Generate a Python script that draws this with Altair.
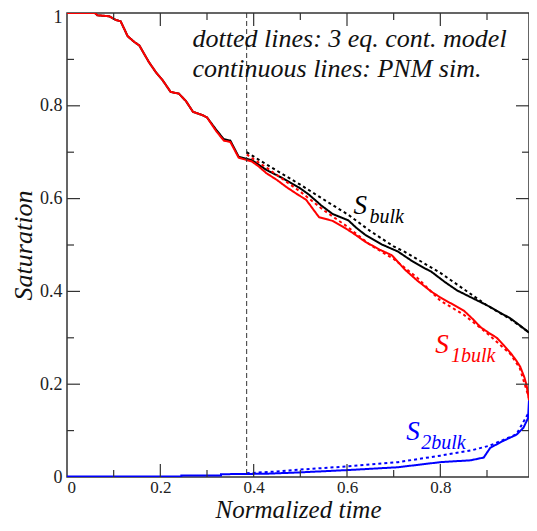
import altair as alt
import pandas as pd

# ---- data ----
red_t = [0, 0.06, 0.065, 0.09, 0.105, 0.115, 0.13, 0.145, 0.155, 0.175, 0.19, 0.205, 0.222, 0.24, 0.255, 0.27, 0.29, 0.30,
         0.32, 0.336, 0.35, 0.368, 0.396, 0.41, 0.427, 0.45, 0.47, 0.497, 0.512, 0.54, 0.569, 0.59, 0.611, 0.639, 0.67,
         0.696, 0.724, 0.751, 0.78, 0.80, 0.823, 0.851, 0.87, 0.886, 0.905, 0.921, 0.935, 0.95, 0.962, 0.971, 0.98, 0.985, 0.99]
red_s = [1, 1, 0.995, 0.993, 0.985, 0.982, 0.95, 0.937, 0.93, 0.895, 0.873, 0.855, 0.83, 0.826, 0.81, 0.787, 0.78, 0.775,
         0.745, 0.725, 0.722, 0.688, 0.68, 0.67, 0.655, 0.64, 0.625, 0.607, 0.598, 0.56, 0.552, 0.54, 0.527, 0.507, 0.49,
         0.478, 0.447, 0.423, 0.40, 0.387, 0.374, 0.358, 0.34, 0.323, 0.31, 0.30, 0.285, 0.268, 0.252, 0.238, 0.215, 0.197, 0.165]

black_t = [0, 0.06, 0.065, 0.09, 0.105, 0.115, 0.13, 0.145, 0.155, 0.175, 0.19, 0.205, 0.222, 0.24, 0.255, 0.27, 0.29, 0.30,
           0.32, 0.336, 0.35, 0.368, 0.396, 0.427, 0.46, 0.497, 0.518, 0.545, 0.569, 0.603, 0.62, 0.639, 0.675, 0.709,
           0.74, 0.766, 0.78, 0.81, 0.836, 0.87, 0.90, 0.921, 0.95, 0.97, 0.99]
black_s = [1, 1, 0.995, 0.993, 0.985, 0.982, 0.95, 0.937, 0.93, 0.895, 0.873, 0.855, 0.83, 0.826, 0.81, 0.787, 0.78, 0.775,
           0.748, 0.728, 0.725, 0.69, 0.683, 0.662, 0.645, 0.624, 0.609, 0.585, 0.567, 0.553, 0.537, 0.522, 0.501, 0.486,
           0.465, 0.45, 0.443, 0.42, 0.402, 0.385, 0.37, 0.358, 0.342, 0.327, 0.311]

blue_t = [0, 0.245, 0.245, 0.33, 0.33, 0.427, 0.50, 0.603, 0.709, 0.80, 0.865, 0.893, 0.907, 0.935, 0.963, 0.978, 0.988, 0.99]
blue_s = [0.001, 0.001, 0.003, 0.003, 0.006, 0.007, 0.010, 0.015, 0.021, 0.032, 0.036, 0.042, 0.063, 0.078, 0.091, 0.106, 0.127, 0.165]

black_model_t = [0.385, 0.43, 0.50, 0.55, 0.603, 0.65, 0.70, 0.724, 0.80, 0.85, 0.90, 0.95, 0.99]
black_model_s = [0.70, 0.672, 0.63, 0.598, 0.565, 0.53, 0.497, 0.485, 0.44, 0.405, 0.37, 0.34, 0.312]

red_model_t = [0.385, 0.43, 0.50, 0.55, 0.60, 0.65, 0.70, 0.75, 0.80, 0.85, 0.90, 0.95, 0.97, 0.99]
red_model_s = [0.695, 0.665, 0.615, 0.575, 0.54, 0.50, 0.47, 0.43, 0.38, 0.35, 0.31, 0.265, 0.235, 0.17]

blue_model_t = [0.385, 0.45, 0.50, 0.603, 0.709, 0.80, 0.865, 0.907, 0.935, 0.963, 0.99]
blue_model_s = [0.008, 0.012, 0.016, 0.023, 0.032, 0.046, 0.057, 0.068, 0.080, 0.092, 0.14]

vline_t = [0.385]

x_major = [0, 0.2, 0.4, 0.6, 0.8]
x_minor = [0.1, 0.3, 0.5, 0.7, 0.9]
y_major = [0, 0.2, 0.4, 0.6, 0.8, 1.0]
y_minor = [0.1, 0.3, 0.5, 0.7, 0.9]

W, H = 462, 464
XDOM = [0, 0.99]
YDOM = [0, 1]
FONT = "Liberation Serif, DejaVu Serif, Times New Roman, serif"

series = [
    ("black_sim", black_t, black_s, "solid", "#000000"),
    ("red_sim", red_t, red_s, "solid", "#ff0000"),
    ("blue_sim", blue_t, blue_s, "solid", "#0000ff"),
    ("black_model", black_model_t, black_model_s, "dotted", "#000000"),
    ("red_model", red_model_t, red_model_s, "dotted", "#ff0000"),
    ("blue_model", blue_model_t, blue_model_s, "dotted", "#0000ff"),
]
rows = []
for name, ts, ss, sty, col in series:
    for i, (t, s) in enumerate(zip(ts, ss)):
        rows.append({"series": name, "t": t, "s": s, "idx": i, "style": sty})
df = pd.DataFrame(rows)

xs = alt.Scale(domain=XDOM, nice=False, zero=False)
ys = alt.Scale(domain=YDOM, nice=False, zero=False)

names = [s[0] for s in series]
colors = [s[4] for s in series]

lines = alt.Chart(df).mark_line(strokeWidth=2, clip=True).encode(
    x=alt.X("t:Q", scale=xs, axis=alt.Axis(
        title="Normalized time", values=x_major, format="~g", ticks=False, domain=False, grid=False,
        labelFont=FONT, labelFontSize=17, labelColor="#222", labelPadding=2,
        titleFont=FONT, titleFontSize=25, titleFontStyle="italic", titleFontWeight="normal",
        titleColor="#111", titlePadding=2)),
    y=alt.Y("s:Q", scale=ys, axis=alt.Axis(
        title="Saturation", values=y_major, format="~g", ticks=False, domain=False, grid=False,
        labelFont=FONT, labelFontSize=18, labelColor="#222", labelPadding=5,
        labelOffset=alt.condition("datum.value == 1", alt.value(4), alt.value(0)),
        titleFont=FONT, titleFontSize=26, titleFontStyle="italic", titleFontWeight="normal",
        titleColor="#111", titlePadding=3)),
    color=alt.Color("series:N", scale=alt.Scale(domain=names, range=colors), legend=None),
    strokeDash=alt.StrokeDash("style:N", scale=alt.Scale(domain=["solid", "dotted"], range=[[1, 0], [3, 3]]), legend=None),
    detail="series:N",
    order="idx:Q",
)

vline = alt.Chart(pd.DataFrame({"t": vline_t})).mark_rule(color="#333", strokeWidth=1, strokeDash=[5, 3]).encode(
    x=alt.X("t:Q", scale=xs))

# inward ticks on all four sides
dfx_maj = pd.DataFrame({"v": x_major[1:]})
dfx_min = pd.DataFrame({"v": x_minor})
dfy_maj = pd.DataFrame({"v": y_major[1:-1]})
dfy_min = pd.DataFrame({"v": y_minor})
TC = "#333"
ticks = []
for d, L in ((dfx_maj, 13), (dfx_min, 7)):
    ticks.append(alt.Chart(d).mark_rule(color=TC, strokeWidth=1.2).encode(
        x=alt.X("v:Q", scale=xs), y=alt.value(H), y2=alt.value(H - L)))
    ticks.append(alt.Chart(d).mark_rule(color=TC, strokeWidth=1.2).encode(
        x=alt.X("v:Q", scale=xs), y=alt.value(0), y2=alt.value(L)))
for d, L in ((dfy_maj, 13), (dfy_min, 7)):
    ticks.append(alt.Chart(d).mark_rule(color=TC, strokeWidth=1.2).encode(
        y=alt.Y("v:Q", scale=ys), x=alt.value(0), x2=alt.value(L)))
    ticks.append(alt.Chart(d).mark_rule(color=TC, strokeWidth=1.2).encode(
        y=alt.Y("v:Q", scale=ys), x=alt.value(W), x2=alt.value(W - L)))

# annotations
note_df = pd.DataFrame({
    "t": [0.269, 0.269],
    "s": [0.926, 0.863],
    "txt": ["dotted lines: 3 eq. cont. model", "continuous lines: PNM sim."],
})
notes = alt.Chart(note_df).mark_text(align="left", baseline="alphabetic", font=FONT, fontStyle="italic",
                                     fontSize=26, color="#111").encode(
    x=alt.X("t:Q", scale=xs), y=alt.Y("s:Q", scale=ys), text="txt:N")

lab_df = pd.DataFrame({
    "t": [0.614, 0.648, 0.789, 0.823, 0.727, 0.759],
    "s": [0.567, 0.548, 0.268, 0.247, 0.080, 0.061],
    "txt": ["S", "bulk", "S", "1bulk", "S", "2bulk"],
    "size": [27, 20, 27, 20, 27, 20],
    "col": ["black", "black", "red", "red", "blue", "blue"],
})
labels = alt.Chart(lab_df).mark_text(align="left", baseline="alphabetic", font=FONT, fontStyle="italic").encode(
    x=alt.X("t:Q", scale=xs), y=alt.Y("s:Q", scale=ys), text="txt:N",
    size=alt.Size("size:Q", scale=None, legend=None),
    color=alt.Color("col:N", scale=alt.Scale(domain=["black", "red", "blue"], range=["#000000", "#ff0000", "#0000ff"]), legend=None),
)

chart = alt.layer(lines, vline, *ticks, notes, labels).resolve_scale(color="independent").properties(
    width=W, height=H,
    autosize=alt.AutoSizeParams(type="none"),
    padding={"left": 59, "top": 5, "right": 0, "bottom": 46},
    background="white",
).configure_view(stroke="#333", strokeWidth=1.5)

chart.save("out.html", embed_options={"renderer": "svg", "actions": False})
